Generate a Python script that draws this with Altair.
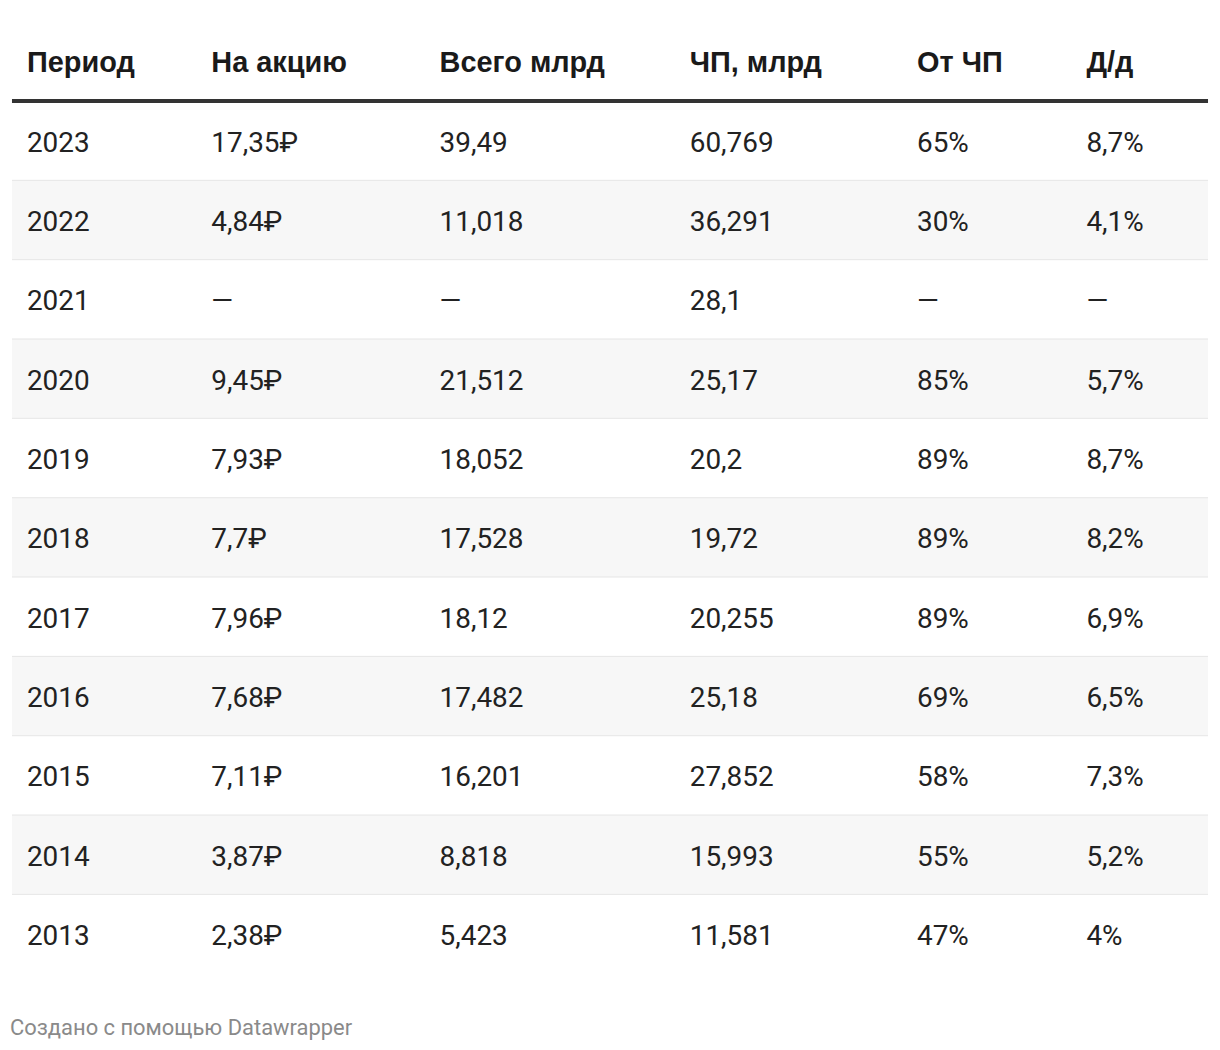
import altair as alt
import pandas as pd

columns = ["Период", "На акцию", "Всего млрд", "ЧП, млрд", "От ЧП", "Д/д"]
periods = ["2023", "2022", "2021", "2020", "2019", "2018", "2017", "2016", "2015", "2014", "2013"]
per_share = ["17,35₽", "4,84₽", "—", "9,45₽", "7,93₽", "7,7₽", "7,96₽", "7,68₽", "7,11₽", "3,87₽", "2,38₽"]
total_bn = ["39,49", "11,018", "—", "21,512", "18,052", "17,528", "18,12", "17,482", "16,201", "8,818", "5,423"]
net_profit_bn = ["60,769", "36,291", "28,1", "25,17", "20,2", "19,72", "20,255", "25,18", "27,852", "15,993", "11,581"]
share_of_np = ["65%", "30%", "—", "85%", "89%", "89%", "89%", "69%", "58%", "55%", "47%"]
div_yield = ["8,7%", "4,1%", "—", "5,7%", "8,7%", "8,2%", "6,9%", "6,5%", "7,3%", "5,2%", "4%"]

HDR = "hdr"
col_x = [15, 200, 429, 680, 908, 1078]
W = 1200
ROW_H = 79.6

header_df = pd.DataFrame({"row": [HDR] * len(columns), "ci": list(range(len(columns))), "text": columns})
body_rows = []
for i, p in enumerate(periods):
    vals = [p, per_share[i], total_bn[i], net_profit_bn[i], share_of_np[i], div_yield[i]]
    for ci, v in enumerate(vals):
        body_rows.append({"row": p, "ci": ci, "text": v})
body_df = pd.DataFrame(body_rows)
rows_df = pd.DataFrame({"row": periods})
shaded = periods[1::2]
bordered = periods[:-1]

yscale = alt.Scale(type="band", domain=[HDR] + periods, paddingInner=0, paddingOuter=0)
xscale = alt.Scale(domain=list(range(len(columns))), range=col_x)

bg = alt.Chart(rows_df).transform_filter(
    alt.FieldOneOfPredicate(field="row", oneOf=shaded)
).mark_rect(color="#f7f7f7").encode(
    y=alt.Y("row:N", scale=yscale, axis=None)
)

borders = alt.Chart(rows_df).transform_filter(
    alt.FieldOneOfPredicate(field="row", oneOf=bordered)
).mark_rule(color="#e6e6e6", strokeWidth=1).encode(
    y=alt.Y("row:N", scale=yscale, axis=None, bandPosition=1)
)

hdr_rule = alt.Chart(pd.DataFrame({"row": [HDR]})).mark_rule(color="#333333", strokeWidth=4).encode(
    y=alt.Y("row:N", scale=yscale, axis=None, bandPosition=1)
)

hdr_text = alt.Chart(header_df).mark_text(
    align="left", baseline="middle", font="Liberation Sans", fontWeight="bold",
    fontSize=29, color="#1a1a1a", dy=2
).encode(
    x=alt.X("ci:Q", scale=xscale, axis=None),
    y=alt.Y("row:N", scale=yscale, axis=None),
    text="text:N",
)

body_text = alt.Chart(body_df).mark_text(
    align="left", baseline="middle", font="Roboto", fontSize=28, color="#222222", dy=3
).encode(
    x=alt.X("ci:Q", scale=xscale, axis=None),
    y=alt.Y("row:N", scale=yscale, axis=None),
    text="text:N",
)

chart = alt.layer(bg, borders, hdr_rule, hdr_text, body_text).properties(
    width=W,
    height=ROW_H * (len(periods) + 1),
    background="white",
    padding={"left": 2, "top": 12, "right": 2, "bottom": 5},
    title=alt.TitleParams(
        "Создано с помощью Datawrapper", orient="bottom", anchor="start",
        font="Roboto", fontSize=22, fontWeight="normal", color="#8a8a8a", offset=44
    ),
).configure_view(strokeWidth=0)

chart.save("out.html", embed_options={"renderer": "svg", "actions": False})
